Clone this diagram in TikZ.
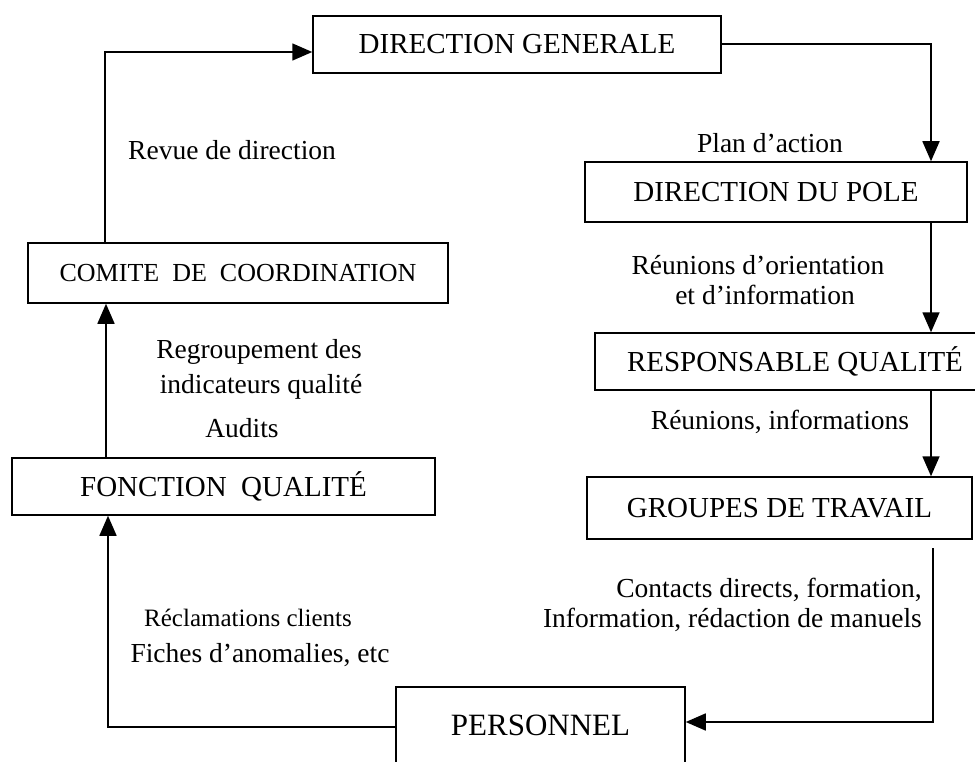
\documentclass[tikz,border=0pt]{standalone}
\usepackage{fontspec}
\setmainfont{Liberation Serif}
\usetikzlibrary{arrows.meta}
\begin{document}
\begin{tikzpicture}[x=1pt,y=-1pt,
  box/.style={draw, line width=1.5pt, rectangle, inner sep=0pt,
    font=\fontsize{29}{34}\selectfont},
  lbl/.style={inner sep=0pt, font=\fontsize{27.5}{32}\selectfont},
  wire/.style={line width=1.6pt},
  conn/.style={wire, -{Triangle[length=20pt,width=17pt]}}]
\useasboundingbox (0,0) rectangle (975,762);
\clip (0,0) rectangle (975,762);

% boxes
\node[box, minimum width=408pt, minimum height=57pt] (dg) at (517,44.5) {DIRECTION GENERALE};
\node[box, minimum width=382pt, minimum height=60pt] (dp) at (776,192) {DIRECTION DU POLE};
\node[box, minimum width=400pt, minimum height=57pt] (rq) at (795,361.5) {RESPONSABLE QUALITÉ};
\node[box, minimum width=385pt, minimum height=62pt] (gt) at (779.5,508) {GROUPES DE TRAVAIL};
\node[box, minimum width=289pt, minimum height=76pt, font=\fontsize{31}{36}\selectfont] (pe) at (540.5,725) {PERSONNEL};
\node[box, minimum width=423pt, minimum height=57pt] (fq) at (223.5,486.5) {FONCTION\ \ QUALITÉ};
\node[box, minimum width=420pt, minimum height=60pt, font=\fontsize{26}{31}\selectfont] (cc) at (238,273) {COMITE\ \ DE\ \ COORDINATION};

% labels
\node[lbl, anchor=west] (l1) at (128,150) {Revue de direction};
\node[lbl] (l2) at (770,143) {Plan d’action};
\node[lbl] (l3) at (758,265) {Réunions d’orientation};
\node[lbl] (l4) at (765,295) {et d’information};
\node[lbl] (l5) at (780,422) {Réunions, informations};
\node[lbl] (l6) at (259,352) {Regroupement des};
\node[lbl] (l7) at (261,387) {indicateurs qualité};
\node[lbl] (l8) at (242,428) {Audits};
\node[lbl, anchor=east] (l9) at (922,590) {Contacts directs, formation,};
\node[lbl, anchor=east] (l10) at (922,620) {Information, rédaction de manuels};
\node[lbl, font=\fontsize{25}{30}\selectfont] (l11) at (248,618) {Réclamations clients};
\node[lbl] (l12) at (260,655) {Fiches d’anomalies, etc};

% corner points of the connectors
\coordinate (tl) at (105,52);
\coordinate (tr) at (931,44);
\coordinate (gs) at (933,548);
\coordinate (br) at (933,722);
\coordinate (bl) at (108,727);
\coordinate (ml) at (106,400);

% connectors
\draw[conn] (cc.north -| tl) -- (tl) -- (dg.west |- tl);
\draw[conn] (dg.east |- tr) -- (tr) -- (dp.north -| tr);
\draw[conn] (dp.south -| tr) -- (rq.north -| tr);
\draw[conn] (rq.south -| tr) -- (gt.north -| tr);
\draw[conn] (gs) -- (br) -- (pe.east |- br);
\draw[conn] (pe.west |- bl) -- (bl) -- (fq.south -| bl);
\draw[conn] (fq.north -| ml) -- (cc.south -| ml);
\end{tikzpicture}
\end{document}
